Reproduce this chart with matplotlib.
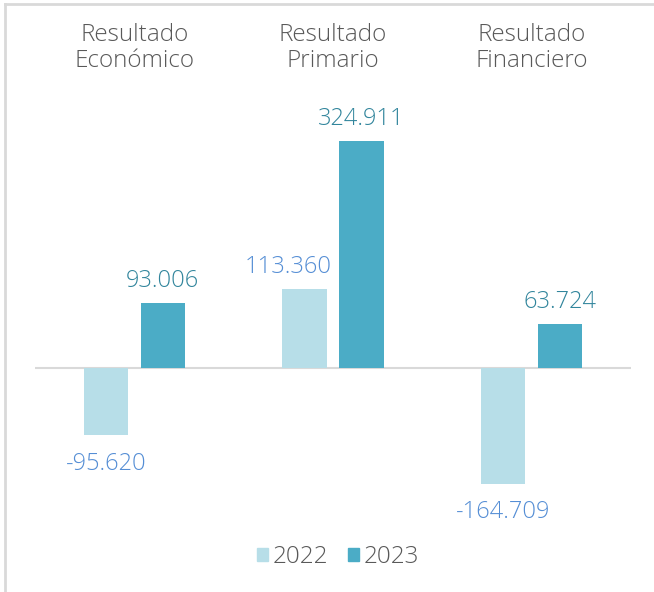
import matplotlib.pyplot as plt
import matplotlib.transforms as mtransforms
from matplotlib.lines import Line2D
from matplotlib.patches import Patch
import numpy as np

categories = ["Resultado\nEconómico", "Resultado\nPrimario", "Resultado\nFinanciero"]
years = ["2022", "2023"]
v2022 = [-95620, 113360, -164709]
v2023 = [93006, 324911, 63724]

c2022, c2023 = "#B7DEE8", "#4BACC6"
t2022, t2023 = "#558ED5", "#31859C"
grey = "#595959"

plt.rcParams["font.family"] = ["Open Sans", "DejaVu Sans"]
plt.rcParams["font.weight"] = 300

fig = plt.figure(figsize=(6.54, 5.92), dpi=100)
ax = fig.add_axes([35/654, 62/592, 596/654, 430/592])

x = np.arange(len(categories))
w = 0.222
off = 0.1436
ax.bar(x - off, np.array(v2022)/1000, w, color=c2022)
ax.bar(x + off, np.array(v2023)/1000, w, color=c2023)
ax.axhline(0, color="#d9d9d9", lw=1.5, zorder=0)

def fmt(v):
    return f"{v/1000:.3f}"

# the 113.360 label sits a bit left of its bar in the original
xshift = {1: -11.5}
for i in range(len(categories)):
    for vals, xo, col in ((v2022, -off, t2022), (v2023, off, t2023)):
        v = vals[i] / 1000
        dx = xshift.get(i, 0) if col == t2022 else 0
        dy = 11.5 if v >= 0 else -25
        ax.annotate(fmt(vals[i]), (i + xo, v), xytext=(dx, dy),
                    textcoords="offset points", ha="center", va="baseline",
                    fontsize=17, color=col)

trans = mtransforms.blended_transform_factory(ax.transData, fig.transFigure)
for i, c in enumerate(categories):
    ax.text(i, 1 - 48/592, c, transform=trans, ha="center", va="center",
            fontsize=17.5, color=grey, linespacing=1.1)

ax.set_xlim(-0.5, 2.5)
ax.set_ylim(-231, 383)
ax.axis("off")

handles = [Patch(color=c2022), Patch(color=c2023)]
fig.legend(handles, years, loc="center", bbox_to_anchor=(338/654, 1 - 557/592),
           ncol=2, frameon=False, fontsize=17.5, handlelength=0.45, handleheight=0.45,
           handletextpad=0.2, columnspacing=0.8, labelcolor=grey)

fig.add_artist(Line2D([5/654, 5/654], [0, 1 - 4/592], color="#d9d9d9", lw=2))
fig.add_artist(Line2D([5/654, 1], [1 - 4/592, 1 - 4/592], color="#d9d9d9", lw=2))

fig.savefig("out.png", dpi=100)
